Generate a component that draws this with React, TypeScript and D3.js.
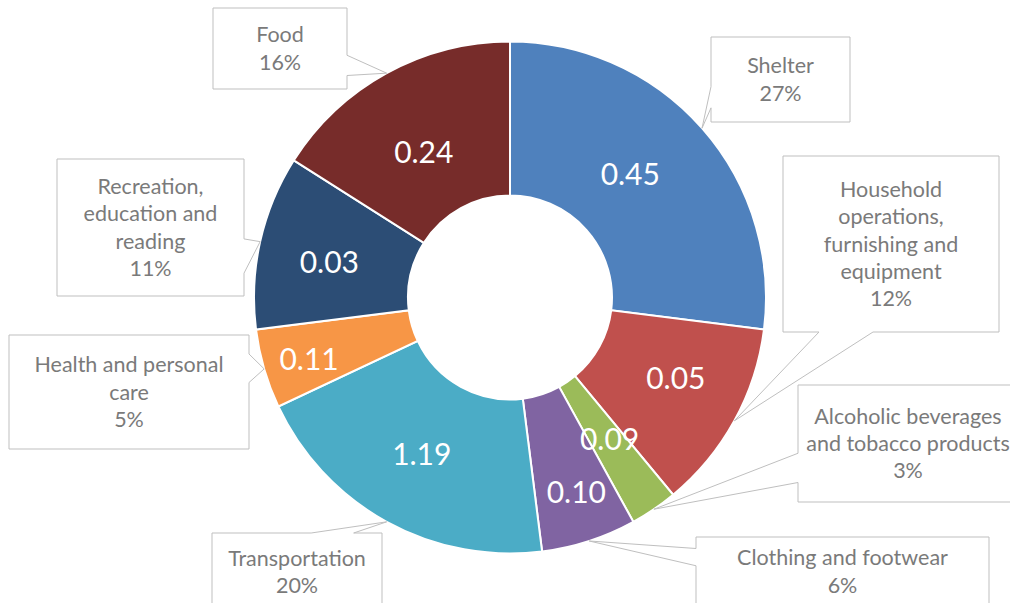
import React from 'react';
import * as d3 from 'd3';

const categories = [
  'Shelter',
  'Household operations, furnishing and equipment',
  'Alcoholic beverages and tobacco products',
  'Clothing and footwear',
  'Transportation',
  'Health and personal care',
  'Recreation, education and reading',
  'Food',
];
const shares = [27, 12, 3, 6, 20, 5, 11, 16];
const changes = ['0.45', '0.05', '0.09', '0.10', '1.19', '0.11', '0.03', '0.24'];
const labelLines = [
  ['Shelter'],
  ['Household', 'operations,', 'furnishing and', 'equipment'],
  ['Alcoholic beverages', 'and tobacco products'],
  ['Clothing and footwear'],
  ['Transportation'],
  ['Health and personal', 'care'],
  ['Recreation,', 'education and', 'reading'],
  ['Food'],
];
const colors = ['#4F81BD', '#C0504D', '#9BBB59', '#8064A2', '#4BACC6', '#F79646', '#2C4D75', '#772C2A'];

// layout of callout boxes
const boxes = [
  { x: 711, y: 37, w: 139, h: 85 },
  { x: 783, y: 156, w: 216, h: 176 },
  { x: 798, y: 385, w: 220, h: 117 },
  { x: 696, y: 537, w: 293, h: 69 },
  { x: 212, y: 533, w: 170, h: 78 },
  { x: 9, y: 335, w: 240, h: 114 },
  { x: 57, y: 159, w: 187, h: 137 },
  { x: 213, y: 8, w: 134, h: 81 },
];
// small layout nudges of the in-slice value labels
const valueNudges = [
  [-14, -5],
  [9, -5],
  [-1, -6],
  [11, 25],
  [-2, 0],
  [-29, 12],
  [-6, 4],
  [0, 12],
];

const W = 1010, H = 603;
const cx = 510, cy = 297.5, R = 256, r = 102;
const FONT = 'Lato, "Open Sans", sans-serif';

type Box = { x: number; y: number; w: number; h: number };

function calloutPath(b: Box, tx: number, ty: number) {
  const { x, y, w, h } = b;
  const x2 = x + w, y2 = y + h;
  const bcx = x + w / 2, bcy = y + h / 2;
  const dxOut = Math.max(x - tx, tx - x2, 0);
  const dyOut = Math.max(y - ty, ty - y2, 0);
  if (dxOut >= dyOut) {
    const hi = ty > bcy;
    const a = y + h * (hi ? 7 / 12 : 2 / 12), c = y + h * (hi ? 10 / 12 : 5 / 12);
    if (tx > bcx) {
      return `M${x},${y}H${x2}V${a}L${tx},${ty}L${x2},${c}V${y2}H${x}Z`;
    }
    return `M${x},${y}H${x2}V${y2}H${x}V${c}L${tx},${ty}L${x},${a}Z`;
  } else {
    const hi = tx > bcx;
    const a = x + w * (hi ? 7 / 12 : 2 / 12), c = x + w * (hi ? 10 / 12 : 5 / 12);
    if (ty > bcy) {
      return `M${x},${y}H${x2}V${y2}H${c}L${tx},${ty}L${a},${y2}H${x}Z`;
    }
    return `M${x},${y}H${a}L${tx},${ty}L${c},${y}H${x2}V${y2}H${x}Z`;
  }
}

export default function App() {
  const pie = d3.pie<number>().sort(null).value((d) => d);
  const arcs = pie(shares);
  const arc = d3.arc<d3.PieArcDatum<number>>().innerRadius(r).outerRadius(R);
  const edge = d3.arc<d3.PieArcDatum<number>>().innerRadius(R).outerRadius(R);

  return (
    <svg width={W} height={H} style={{ position: 'absolute', left: 0, top: 0 }} fontFamily={FONT}>
      <rect width={W} height={H} fill="#fff" />
      <g transform={`translate(${cx},${cy})`}>
        {arcs.map((a, i) => (
          <path key={i} d={arc(a) || ''} fill={colors[i]} stroke="#fff" strokeWidth={2} />
        ))}
        {arcs.map((a, i) => {
          const [x, y] = arc.centroid(a);
          return (
            <text
              key={i}
              x={x + valueNudges[i][0]}
              y={y + valueNudges[i][1]}
              dy="0.35em"
              textAnchor="middle"
              fill="#fff"
              fontSize={30}
            >
              {changes[i]}
            </text>
          );
        })}
      </g>
      {arcs.map((a, i) => {
        const [ex, ey] = edge.centroid(a);
        const tx = cx + ex, ty = cy + ey;
        const b = boxes[i];
        const lines = [...labelLines[i], `${shares[i]}%`];
        const lh = 27.3;
        const mid = b.y + b.h / 2;
        const y0 = mid - ((lines.length - 1) * lh) / 2;
        return (
          <g key={i}>
            <path d={calloutPath(b, tx, ty)} fill="#fff" stroke="#BFBFBF" strokeWidth={1} />
            {lines.map((l, j) => (
              <text
                key={j}
                x={b.x + b.w / 2}
                y={y0 + j * lh}
                dy="0.35em"
                textAnchor="middle"
                fill="#7a7a7a"
                fontSize={21.5}
              >
                {l}
              </text>
            ))}
          </g>
        );
      })}
    </svg>
  );
}
